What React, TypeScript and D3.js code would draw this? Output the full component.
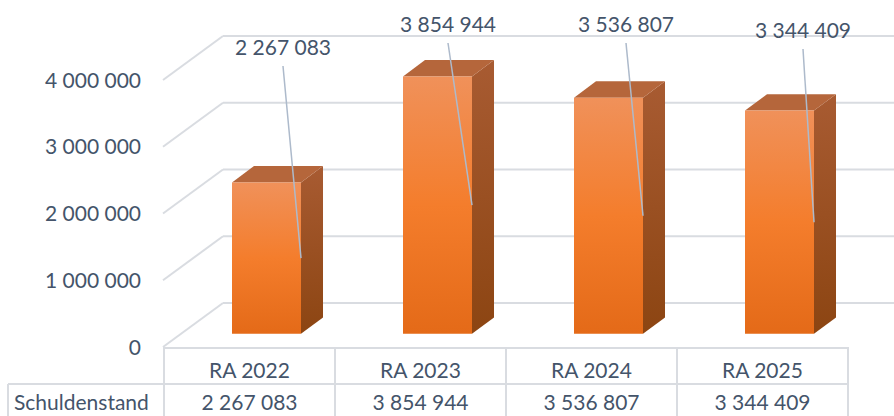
import React from "react";
import * as d3 from "d3";

const categories = ["RA 2022", "RA 2023", "RA 2024", "RA 2025"];
const values = [2267083, 3854944, 3536807, 3344409];
const seriesName = "Schuldenstand";
const yTicks = [0, 1000000, 2000000, 3000000, 4000000];

// layout constants (label placement, screen px)
const labelBaselines = [55, 32, 32, 38];
const labelCenters = [283, 448, 626, 803];

const W = 894;
const H = 416;
const DX = 59;
const DY = 44;
const Z0 = 0.3;
const Z1 = 0.673;
const BAR_W = 69;
const TEXT = "#44546A";
const GRID = "#D9DCE1";
const FONT = "Lato, 'Open Sans', sans-serif";
const FS = 21;

const fmt = (v: number) => d3.format(",")(v).replace(/,/g, " ");

export default function App() {
  const y = d3.scaleLinear().domain([0, 4000000]).range([347, 80]);
  const x = d3.scaleBand<string>().domain(categories).range([164, 848]);
  const P = (px: number, py: number, z: number): [number, number] => [px + z * DX, py - z * DY];
  const pts = (arr: [number, number][]) => arr.map((p) => p.join(",")).join(" ");

  return (
    <svg width={W} height={H} style={{ position: "absolute", left: 0, top: 0, display: "block", background: "#fff" }}>
      <defs>
        <linearGradient id="front" x1="0" y1="0" x2="0" y2="1">
          <stop offset="0" stopColor="#F0915A" />
          <stop offset="0.5" stopColor="#F47D2C" />
          <stop offset="1" stopColor="#E46A18" />
        </linearGradient>
        <linearGradient id="side" x1="0" y1="0" x2="0" y2="1">
          <stop offset="0" stopColor="#A85B32" />
          <stop offset="1" stopColor="#8C4512" />
        </linearGradient>
      </defs>
      {/* walls / gridlines */}
      {yTicks.map((t) => {
        const fy = y(t);
        const [bx, by] = P(164, fy, 1);
        return (
          <g key={t}>
            <line x1={163} y1={fy} x2={bx} y2={by} stroke={GRID} strokeWidth={2} />
            <line x1={bx} y1={by} x2={W} y2={by} stroke={GRID} strokeWidth={2} />
            <text x={141} y={fy} dy="0.36em" textAnchor="end" fontFamily={FONT} fontSize={FS} fill={TEXT}>
              {fmt(t)}
            </text>
          </g>
        );
      })}
      {/* bars */}
      {categories.map((c, i) => {
        const left = (x(c) as number) + x.bandwidth() / 2 - BAR_W / 2 - 0.7;
        const right = left + BAR_W;
        const top = y(values[i]);
        const bot = y(0);
        const f = [P(left, top, Z0), P(right, top, Z0), P(right, bot, Z0), P(left, bot, Z0)];
        const s = [P(right, top, Z0), P(right, top, Z1), P(right, bot, Z1), P(right, bot, Z0)];
        const tp = [P(left, top, Z0), P(left, top, Z1), P(right, top, Z1), P(right, top, Z0)];
        const mid = P(right, (top + bot) / 2, Z0);
        return (
          <g key={c}>
            <polygon points={pts(s)} fill="url(#side)" />
            <polygon points={pts(tp)} fill="#B5663B" />
            <polygon points={pts(f)} fill="url(#front)" />
            <line x1={labelCenters[i]} y1={labelBaselines[i] + 11} x2={mid[0]} y2={mid[1]} stroke="#ADBACB" strokeWidth={1.5} />
            <text x={labelCenters[i]} y={labelBaselines[i]} textAnchor="middle" fontFamily={FONT} fontSize={FS} fill={TEXT}>
              {fmt(values[i])}
            </text>
          </g>
        );
      })}
      {/* data table */}
      <line x1={164} y1={348} x2={848} y2={348} stroke={GRID} strokeWidth={2} />
      <line x1={8} y1={384} x2={848} y2={384} stroke={GRID} strokeWidth={2} />
      <line x1={8} y1={384} x2={8} y2={H} stroke={GRID} strokeWidth={2} />
      {[...categories.map((c) => x(c) as number), 848].map((vx, i) => (
        <line key={i} x1={vx} y1={347} x2={vx} y2={H} stroke={GRID} strokeWidth={2} />
      ))}
      {categories.map((c, i) => {
        const cx = (x(c) as number) + x.bandwidth() / 2;
        return (
          <g key={c}>
            <text x={cx} y={378} textAnchor="middle" fontFamily={FONT} fontSize={FS} fill={TEXT}>{c}</text>
            <text x={cx} y={410} textAnchor="middle" fontFamily={FONT} fontSize={FS} fill={TEXT}>{fmt(values[i])}</text>
          </g>
        );
      })}
      <text x={14} y={410} fontFamily={FONT} fontSize={FS} fill={TEXT}>{seriesName}</text>
    </svg>
  );
}
